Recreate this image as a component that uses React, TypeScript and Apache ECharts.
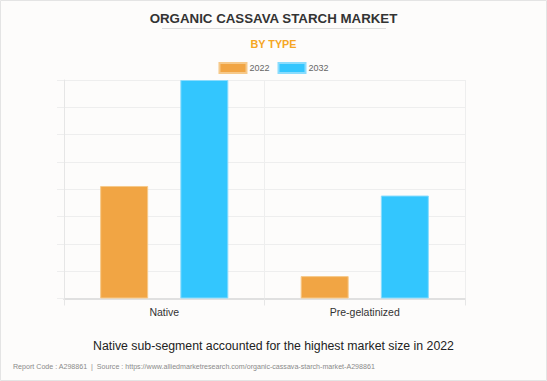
import React, { useEffect, useRef } from "react";
import * as echarts from "echarts";

const categories = ["Native", "Pre-gelatinized"];
const seriesNames = ["2022", "2032"];
const values2022 = [4.12, 0.82];
const values2032 = [8.0, 3.77];
const colors = ["#f1a544", "#33c6fe"];

export default function App() {
  const ref = useRef<HTMLDivElement>(null);
  useEffect(() => {
    if (!ref.current) return;
    const chart = echarts.init(ref.current, null, { renderer: "svg" });
    chart.setOption({
      animation: false,
      backgroundColor: "#fdfcfb",
      title: [
        {
          text: "ORGANIC CASSAVA STARCH MARKET",
          left: "center",
          top: 7,
          textStyle: { fontFamily: "Arial, Liberation Sans", fontSize: 13.3, fontWeight: "bold", color: "#333333" },
        },
        {
          text: "BY TYPE",
          left: "center",
          top: 33,
          textStyle: { fontFamily: "Arial, Liberation Sans", fontSize: 10.8, fontWeight: "bold", color: "#f5a623" },
        },
        {
          text: "Native sub-segment accounted for the highest market size in 2022",
          left: "center",
          top: 335,
          textStyle: { fontFamily: "Arial, Liberation Sans", fontSize: 12.3, fontWeight: "normal", color: "#222222" },
        },
        {
          text: "Report Code : A298861  |  Source : https://www.alliedmarketresearch.com/organic-cassava-starch-market-A298861",
          left: 8,
          top: 358,
          textStyle: { fontFamily: "Arial, Liberation Sans", fontSize: 7.1, fontWeight: "normal", color: "#8a8a8a" },
        },
      ],
      graphic: [
        { type: "line", shape: { x1: 162, y1: 28.5, x2: 386, y2: 28.5 }, style: { stroke: "#dddddd", lineWidth: 1 } },
        { type: "rect", shape: { x: 0.5, y: 0.5, width: 546, height: 380 }, style: { fill: "none", stroke: "#e4e4e4", lineWidth: 1 } },
      ],
      legend: {
        data: seriesNames,
        top: 57,
        left: "center",
        itemWidth: 27,
        itemHeight: 10,
        itemGap: 8,
        icon: "rect",
        textStyle: { fontFamily: "Arial, Liberation Sans", fontSize: 9, color: "#666666", padding: [0, 0, 0, -2] },
      },
      grid: { left: 64, right: 82, top: 80, bottom: 82.5, containLabel: false },
      xAxis: {
        type: "category",
        data: categories,
        axisLine: { show: true, lineStyle: { color: "#e0e0e0", width: 2 } },
        axisTick: { show: true, length: 7, lineStyle: { color: "#e6e6e6" } },
        splitLine: { show: true, lineStyle: { color: "#eeeeee" } },
        axisLabel: { fontFamily: "Arial, Liberation Sans", fontSize: 10.5, color: "#333333", margin: 8 },
      },
      yAxis: {
        type: "value",
        min: 0,
        max: 8,
        interval: 1,
        axisLine: { show: true, lineStyle: { color: "#e6e6e6" } },
        axisTick: { show: true, length: 7, lineStyle: { color: "#eeeeee" } },
        axisLabel: { show: false },
        splitLine: { show: true, lineStyle: { color: "#eeeeee" } },
      },
      series: [
        {
          name: seriesNames[0],
          type: "bar",
          data: values2022,
          barWidth: 48,
          barGap: "67%",
          itemStyle: { color: colors[0], borderColor: "#f6c98a", borderWidth: 1 },
        },
        {
          name: seriesNames[1],
          type: "bar",
          data: values2032,
          barWidth: 48,
          itemStyle: { color: colors[1], borderColor: "#8adcfd", borderWidth: 1 },
        },
      ],
    });
    return () => chart.dispose();
  }, []);
  return <div ref={ref} style={{ position: "fixed", left: 0, top: 0, width: 547, height: 381 }} />;
}
